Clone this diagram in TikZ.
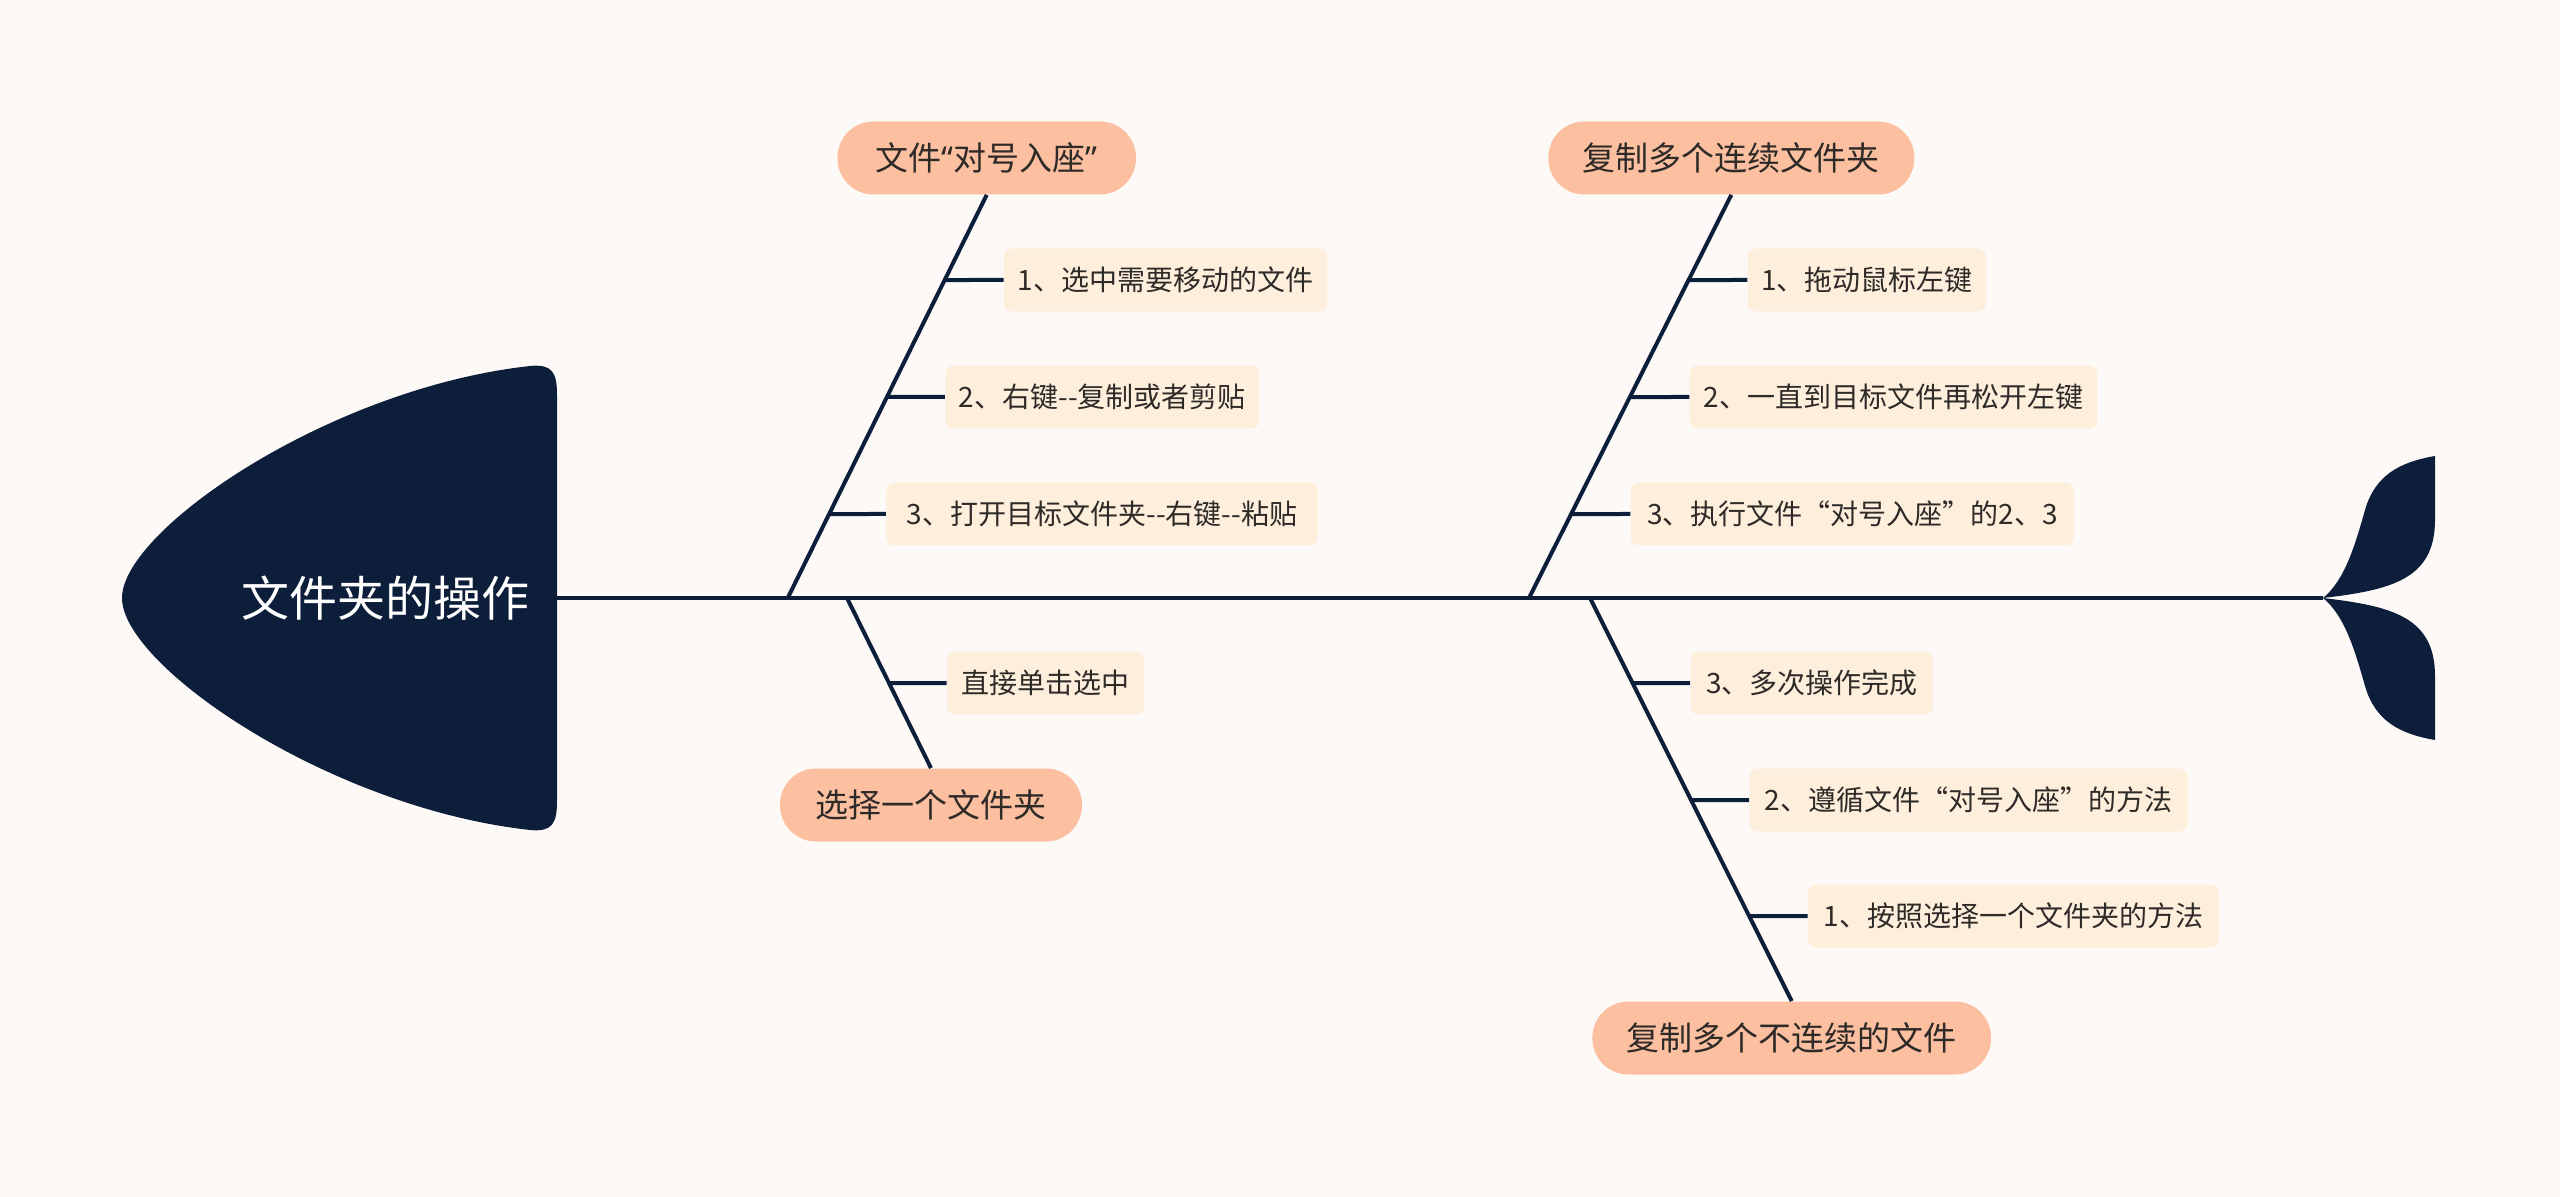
\documentclass[tikz,border=0pt]{standalone}
\usepackage{fontspec}
\newfontfamily\cjk{Noto Sans CJK SC}
\newfontfamily\latinq{Noto Sans}
\usetikzlibrary{calc}
\definecolor{bg}{HTML}{FDF9F7}
\definecolor{navy}{HTML}{0D1E3A}
\definecolor{peach}{HTML}{FCC0A0}
\definecolor{cream}{HTML}{FEEFDD}
\definecolor{ink}{HTML}{2E2A28}
\begin{document}
\begin{tikzpicture}[x=0.5pt,y=-0.5pt,
  mainbox/.style={fill=peach, rounded corners=18pt, minimum height=36.5pt, inner sep=0pt, font=\cjk\fontsize{16.5}{16.5}\selectfont, text=ink},
  subbox/.style={fill=cream, rounded corners=4pt, minimum height=31.5pt, inner sep=0pt, font=\cjk\fontsize{14}{14}\selectfont, text=ink},
  bone/.style={draw=navy, line width=2pt}]
\fill[bg] (0,0) rectangle (2560,1197);
\useasboundingbox (0,0) rectangle (2560,1197);

% head
\fill[navy] (122,598) .. controls (122,530) and (330,388) .. (530,366)
  .. controls (552,364) and (557,372) .. (557,395) -- (557,801)
  .. controls (557,824) and (552,832) .. (530,830)
  .. controls (330,808) and (122,666) .. (122,598) -- cycle;
\node[font=\cjk\fontsize{24}{24}\selectfont, text=white, inner sep=0pt] (head) at (385,598) {文件夹的操作};

% tail
\coordinate (tailj) at (2323,598);
\fill[navy] (tailj) .. controls (2345,580) and (2355,545) .. (2365,510)
  .. controls (2375,475) and (2400,462) .. (2435,456) -- (2435,520)
  .. controls (2435,580) and (2390,590) .. (tailj) -- cycle;
\fill[navy] (tailj) .. controls (2345,616) and (2355,651) .. (2365,686)
  .. controls (2375,721) and (2400,734) .. (2435,740) -- (2435,676)
  .. controls (2435,616) and (2390,606) .. (tailj) -- cycle;

% spine
\coordinate (spinestart) at (557,598);
\draw[bone] (spinestart) -- (tailj);

% junctions
\coordinate (j1) at (787.7,598);
\coordinate (j2) at (847,598);
\coordinate (j3) at (1529,598);
\coordinate (j4) at (1590,598);

% main boxes
\node[mainbox, minimum width=149.25pt] (m1) at (986.7,158) {文件{\latinq“}对号入座{\latinq”}};
\node[mainbox, minimum width=183pt] (m2) at (1731.3,158) {复制多个连续文件夹};
\node[mainbox, minimum width=151pt] (m3) at (931,805) {选择一个文件夹};
\node[mainbox, minimum width=199.3pt] (m4) at (1791.7,1038) {复制多个不连续的文件};

\draw[bone] (j1) -- (m1.south);
\draw[bone] (j3) -- (m2.south);
\draw[bone] (j2) -- (m3.north);
\draw[bone] (j4) -- (m4.north);

% sub boxes
\node[subbox, minimum width=161.7pt] (s11) at (1165.6,280) {1、选中需要移动的文件};
\node[subbox, minimum width=157pt] (s12) at (1102.3,397) {2、右键--复制或者剪贴};
\node[subbox, minimum width=215.7pt] (s13) at (1102,514) {3、打开目标文件夹--右键--粘贴};
\node[subbox, minimum width=98.5pt] (s31) at (1045.5,683) {直接单击选中};
\node[subbox, minimum width=119pt] (s21) at (1866.8,280) {1、拖动鼠标左键};
\node[subbox, minimum width=203.8pt] (s22) at (1893.5,397) {2、一直到目标文件再松开左键};
\node[subbox, minimum width=221.5pt] (s23) at (1852.3,514) {3、执行文件“对号入座”的2、3};
\node[subbox, minimum width=121.2pt] (s41) at (1811.8,683) {3、多次操作完成};
\node[subbox, minimum width=219pt] (s42) at (1968.6,800) {2、遵循文件“对号入座”的方法};
\node[subbox, minimum width=205.4pt] (s43) at (2013.4,916) {1、按照选择一个文件夹的方法};

\draw[bone] (s11.west) -- (intersection of j1--m1.south and s11.west--s11.east);
\draw[bone] (s12.west) -- (intersection of j1--m1.south and s12.west--s12.east);
\draw[bone] (s13.west) -- (intersection of j1--m1.south and s13.west--s13.east);
\draw[bone] (s31.west) -- (intersection of j2--m3.north and s31.west--s31.east);
\draw[bone] (s21.west) -- (intersection of j3--m2.south and s21.west--s21.east);
\draw[bone] (s22.west) -- (intersection of j3--m2.south and s22.west--s22.east);
\draw[bone] (s23.west) -- (intersection of j3--m2.south and s23.west--s23.east);
\draw[bone] (s41.west) -- (intersection of j4--m4.north and s41.west--s41.east);
\draw[bone] (s42.west) -- (intersection of j4--m4.north and s42.west--s42.east);
\draw[bone] (s43.west) -- (intersection of j4--m4.north and s43.west--s43.east);
\end{tikzpicture}
\end{document}
